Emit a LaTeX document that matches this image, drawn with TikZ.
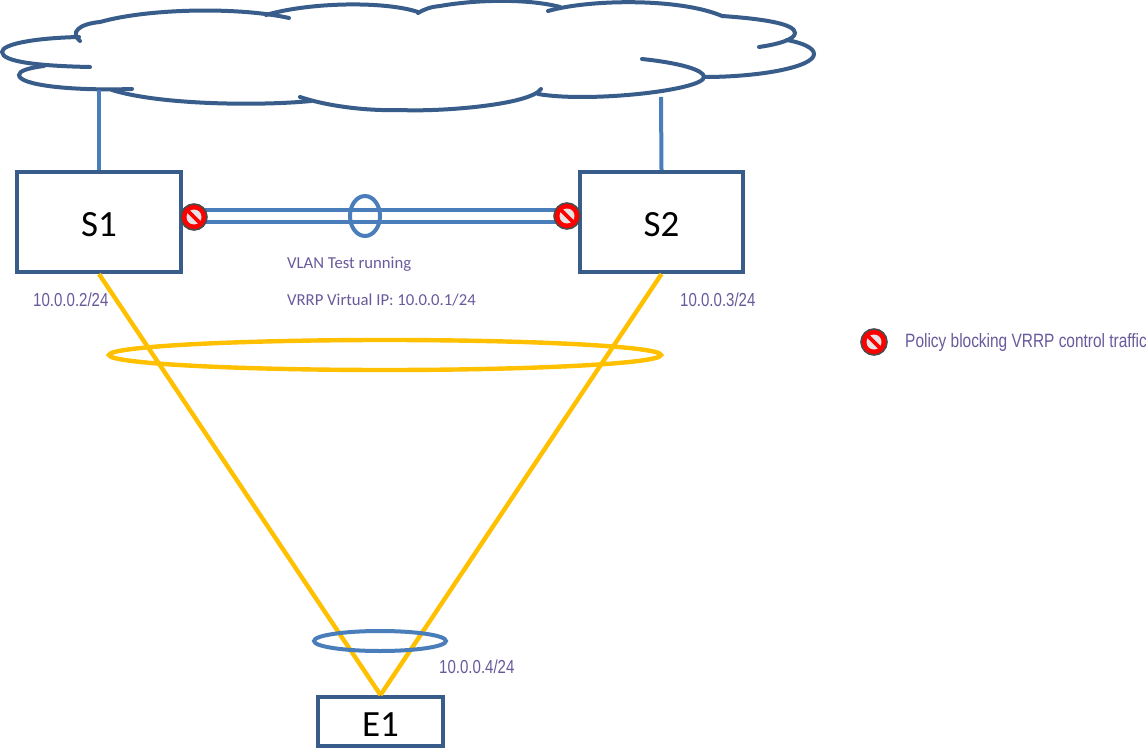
\documentclass[tikz,border=0pt]{standalone}
\usepackage{fontspec}
\setmainfont{Carlito}
\newfontfamily\narrowfont[FakeStretch=0.8]{Liberation Sans}
\definecolor{boxblue}{HTML}{385D8A}
\definecolor{linkblue}{HTML}{4A7EBB}
\definecolor{lagyellow}{HTML}{FFC000}
\definecolor{labelpurple}{HTML}{6A5A9C}
\tikzset{
  cloudline/.style={draw=boxblue,line width=4pt,line cap=round},
  devbox/.style={draw=boxblue,line width=4pt,fill=white,rectangle,inner sep=0pt,font=\fontsize{37}{39}\selectfont,text=black},
  link/.style={draw=linkblue,line width=4pt},
  lag/.style={draw=lagyellow,line width=4.4pt},
  ringblue/.style={draw=linkblue,line width=4pt,ellipse},
  biglabel/.style={text=labelpurple,font=\narrowfont\fontsize{18.8}{20}\selectfont,inner sep=0pt,anchor=west},
  keylabel/.style={text=labelpurple,font=\narrowfont\fontsize{19.3}{21}\selectfont,inner sep=0pt,anchor=west},
  smalllabel/.style={text=labelpurple,font=\fontsize{16.7}{19}\selectfont,inner sep=0pt,anchor=west},
  nosign/.style={circle,draw=black!70,line width=1.6pt,fill=red,minimum size=26pt,inner sep=0pt,
    path picture={
      \fill[white!80!gray] (path picture bounding box.center) circle (7.5pt);
      \draw[red,line width=3.6pt] ([shift={(-8pt,8pt)}]path picture bounding box.center) -- ([shift={(8pt,-8pt)}]path picture bounding box.center);
    }},
}
\usetikzlibrary{shapes.geometric}
\begin{document}
\begin{tikzpicture}[x=1pt,y=-1pt]
\useasboundingbox[fill=white] (0,0) rectangle (1146,749);
% cloud
\draw[cloudline] (90,67) .. controls (40,66) and (2,62) .. (2,52) .. controls (2,44) and (35,38) .. (79,37);
\draw[cloudline] (80,41) .. controls (70,33) and (78,24) .. (100,22) .. controls (150,8) and (240,7) .. (289,18);
\draw[cloudline] (266,15) .. controls (310,2) and (385,1) .. (418,12);
\draw[cloudline] (418,13) .. controls (425,9) and (430,7) .. (440,6) .. controls (480,-1) and (530,-1) .. (560,7);
\draw[cloudline] (548,11) .. controls (590,-1) and (680,-2) .. (722,16) .. controls (765,19) and (795,24) .. (795,33) .. controls (795,39) and (780,44) .. (759,47);
\draw[cloudline] (787,40) .. controls (803,43) and (814,48) .. (814,54) .. controls (814,67) and (760,77) .. (704,77);
\draw[cloudline] (642,59) .. controls (680,63) and (704,70) .. (704,77) .. controls (704,90) and (590,103) .. (538,94);
\draw[cloudline] (541,89) .. controls (530,105) and (440,112) .. (400,110) .. controls (370,111) and (330,107) .. (300,97);
\draw[cloudline] (311,101) .. controls (260,106) and (160,105) .. (112,90);
\draw[cloudline] (132,89) .. controls (70,91) and (19,85) .. (19,75) .. controls (19,71) and (28,68) .. (44,66);
% anchor points on the cloud
\coordinate (cloudS1) at (99,90);
\coordinate (cloudS2) at (661,97);
% devices
\node[devbox,minimum width=164pt,minimum height=100pt] (S1) at (99,222) {\raisebox{-3pt}[\height][\depth]{S1}};
\node[devbox,minimum width=163pt,minimum height=100pt] (S2) at (661.5,222) {\raisebox{-3pt}[\height][\depth]{S2}};
\node[devbox,minimum width=125pt,minimum height=49pt] (E1) at (380.5,721.5) {\raisebox{-3pt}[\height][\depth]{E1}};
% uplinks
\draw[link] (cloudS1) -- (S1.north);
\draw[link] (cloudS2) -- (S2.north);
% peer link
\draw[link] ([yshift=12pt]S1.east) -- ([yshift=12pt]S2.west);
\draw[link] (S1.east) -- (S2.west);
\node[ringblue,minimum width=30pt,minimum height=40pt,inner sep=0pt] (peerring) at (365,216) {};
% yellow links
\draw[lag] (S1.south) -- (E1.north);
\draw[lag] (S2.south) -- (E1.north);
\node[draw=lagyellow,line width=4.4pt,ellipse,minimum width=552pt,minimum height=30pt,inner sep=0pt] (lagring) at (385,355) {};
\node[ringblue,minimum width=132pt,minimum height=20pt,inner sep=0pt] (e1ring) at (380,641) {};
% policy signs
\node[nosign] (stopa) at (194,217) {};
\node[nosign] (stopb) at (567,216) {};
\node[nosign] (stopkey) at (874,342) {};
% labels
\node[smalllabel] (vlan) at (287,264) {VLAN Test running};
\node[smalllabel] (vip) at (287,300) {VRRP Virtual IP: 10.0.0.1/24};
\node[biglabel] (ips1) at (33,299.5) {10.0.0.2/24};
\node[biglabel] (ips2) at (680,299.5) {10.0.0.3/24};
\node[biglabel] (ipe1) at (439,667) {10.0.0.4/24};
\node[keylabel] (keytext) at (905,343) {Policy blocking VRRP control traffic};
\end{tikzpicture}
\end{document}
